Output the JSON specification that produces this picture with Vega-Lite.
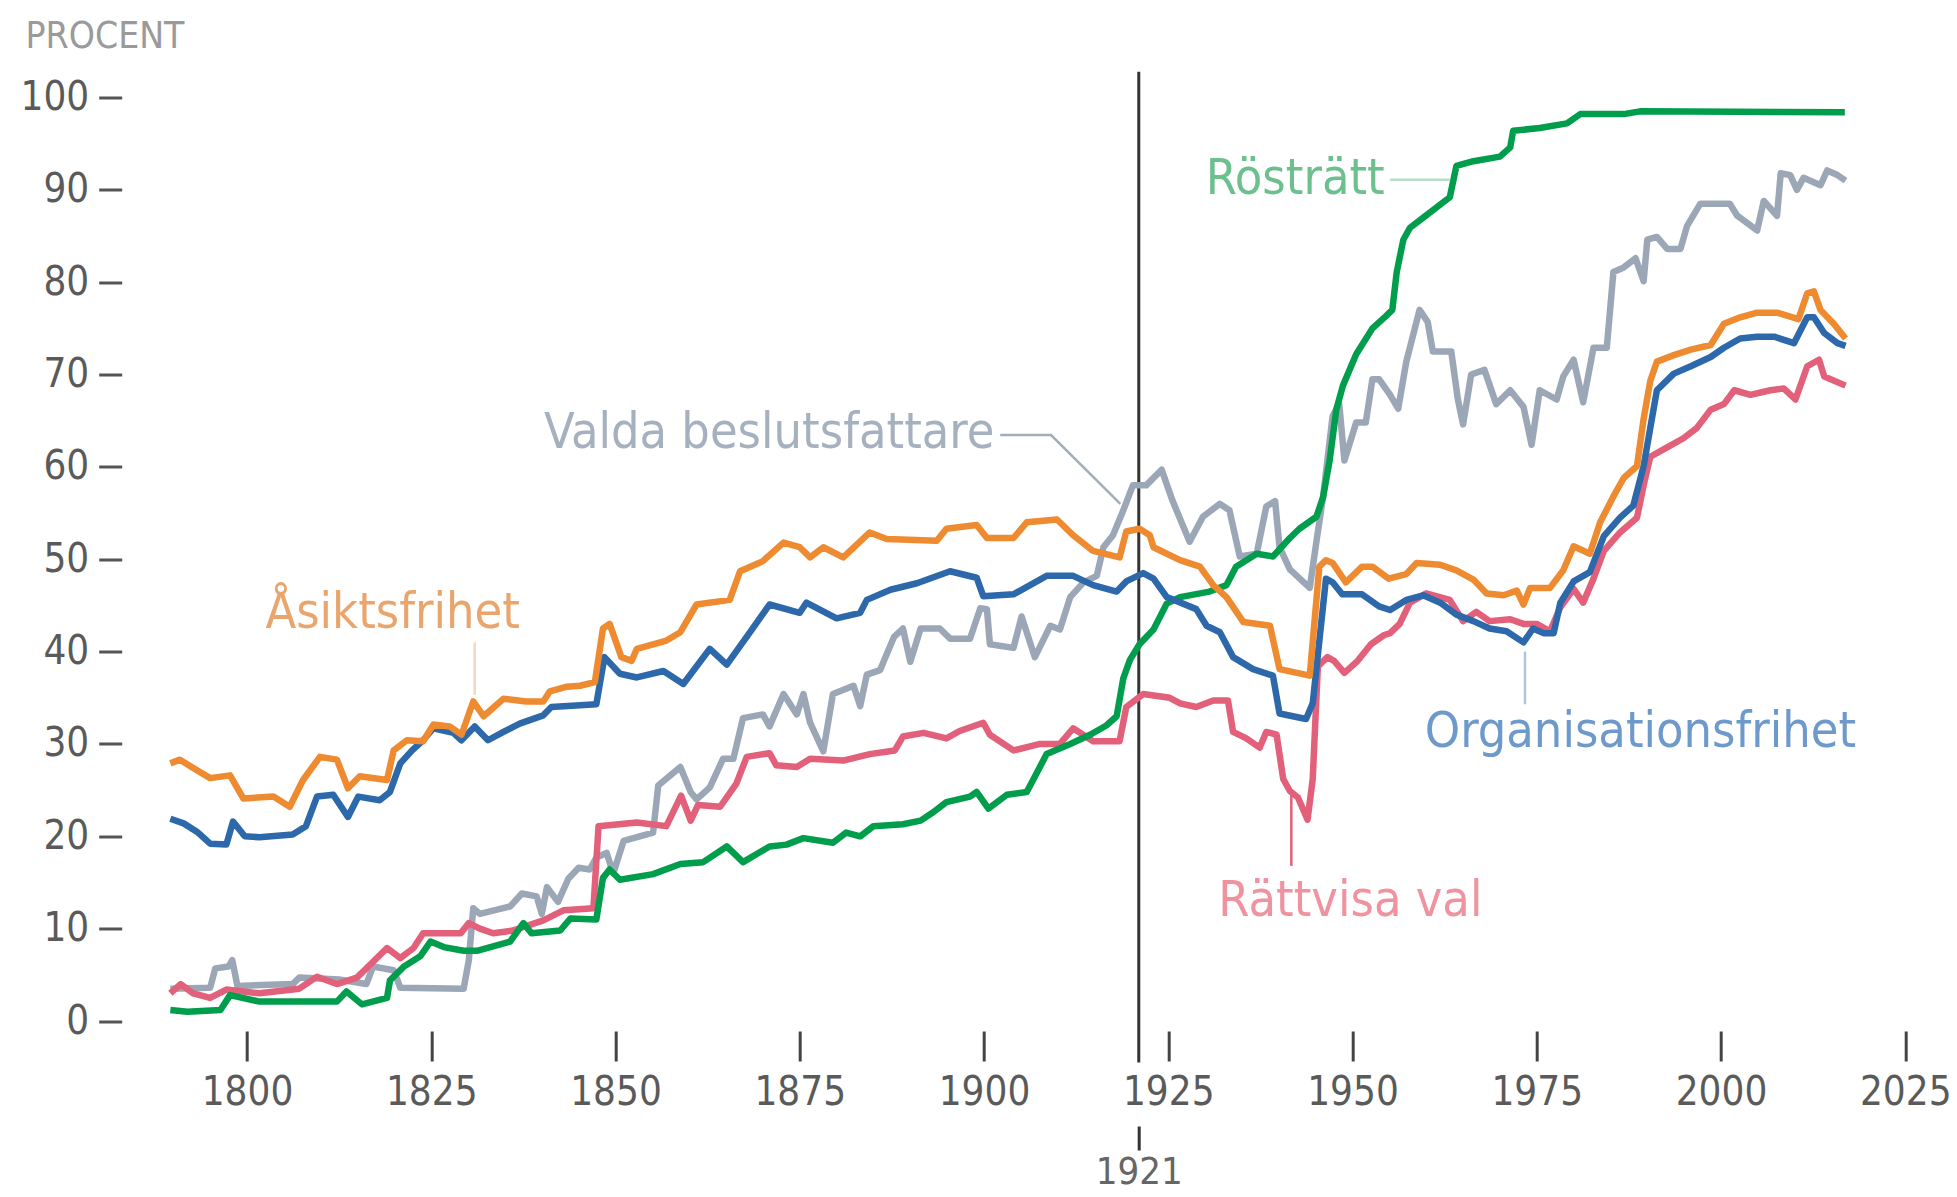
{
  "$schema": "https://vega.github.io/schema/vega-lite/v6.json",
  "autosize": "none",
  "width": 1798.3,
  "height": 923.5,
  "padding": {"left": 121.7, "top": 97.5, "right": 37, "bottom": 176},
  "background": "white",
  "config": {"view": {"stroke": null}},
  "datasets": {
    "lines": [
      {"s":"V","year":1789.6,"value":3.5},{"s":"V","year":1795.0,"value":3.6},{"s":"V","year":1795.7,"value":5.7},{"s":"V","year":1797.5,"value":5.9},{"s":"V","year":1798.0,"value":6.6},{"s":"V","year":1798.7,"value":3.8},{"s":"V","year":1806.2,"value":4.0},{"s":"V","year":1807.1,"value":4.7},{"s":"V","year":1812.5,"value":4.5},{"s":"V","year":1816.2,"value":4.0},{"s":"V","year":1817.1,"value":5.9},{"s":"V","year":1819.9,"value":5.5},{"s":"V","year":1820.8,"value":3.6},{"s":"V","year":1829.4,"value":3.5},{"s":"V","year":1830.1,"value":6.6},{"s":"V","year":1830.7,"value":12.2},{"s":"V","year":1831.6,"value":11.6},{"s":"V","year":1835.7,"value":12.4},{"s":"V","year":1837.3,"value":13.8},{"s":"V","year":1839.3,"value":13.5},{"s":"V","year":1840.0,"value":11.6},{"s":"V","year":1840.7,"value":14.5},{"s":"V","year":1842.2,"value":12.9},{"s":"V","year":1843.6,"value":15.4},{"s":"V","year":1845.0,"value":16.6},{"s":"V","year":1846.5,"value":16.4},{"s":"V","year":1847.4,"value":17.7},{"s":"V","year":1848.8,"value":18.2},{"s":"V","year":1849.7,"value":16.0},{"s":"V","year":1851.1,"value":19.5},{"s":"V","year":1855.1,"value":20.4},{"s":"V","year":1855.8,"value":25.5},{"s":"V","year":1858.8,"value":27.5},{"s":"V","year":1860.2,"value":24.8},{"s":"V","year":1861.0,"value":24.0},{"s":"V","year":1862.8,"value":25.3},{"s":"V","year":1864.6,"value":28.4},{"s":"V","year":1866.0,"value":28.4},{"s":"V","year":1867.3,"value":32.8},{"s":"V","year":1870.0,"value":33.2},{"s":"V","year":1870.9,"value":31.9},{"s":"V","year":1872.8,"value":35.4},{"s":"V","year":1874.6,"value":33.2},{"s":"V","year":1875.5,"value":35.4},{"s":"V","year":1876.4,"value":32.3},{"s":"V","year":1878.2,"value":29.2},{"s":"V","year":1879.5,"value":35.4},{"s":"V","year":1882.3,"value":36.3},{"s":"V","year":1883.2,"value":34.1},{"s":"V","year":1884.1,"value":37.5},{"s":"V","year":1885.9,"value":38.0},{"s":"V","year":1887.8,"value":41.6},{"s":"V","year":1889.0,"value":42.5},{"s":"V","year":1890.0,"value":38.9},{"s":"V","year":1891.4,"value":42.5},{"s":"V","year":1894.0,"value":42.5},{"s":"V","year":1895.4,"value":41.4},{"s":"V","year":1898.1,"value":41.4},{"s":"V","year":1899.5,"value":44.7},{"s":"V","year":1900.4,"value":44.6},{"s":"V","year":1900.8,"value":40.8},{"s":"V","year":1904.0,"value":40.4},{"s":"V","year":1905.1,"value":43.8},{"s":"V","year":1906.9,"value":39.4},{"s":"V","year":1909.0,"value":42.8},{"s":"V","year":1910.3,"value":42.4},{"s":"V","year":1911.7,"value":45.9},{"s":"V","year":1913.5,"value":47.5},{"s":"V","year":1915.3,"value":48.2},{"s":"V","year":1916.2,"value":51.3},{"s":"V","year":1917.5,"value":52.6},{"s":"V","year":1918.9,"value":55.3},{"s":"V","year":1920.2,"value":58.0},{"s":"V","year":1922.0,"value":58.0},{"s":"V","year":1924.1,"value":59.7},{"s":"V","year":1925.6,"value":56.3},{"s":"V","year":1927.9,"value":51.9},{"s":"V","year":1929.7,"value":54.6},{"s":"V","year":1932.0,"value":56.0},{"s":"V","year":1933.3,"value":55.3},{"s":"V","year":1934.7,"value":50.3},{"s":"V","year":1937.0,"value":50.6},{"s":"V","year":1938.3,"value":55.7},{"s":"V","year":1939.5,"value":56.3},{"s":"V","year":1940.1,"value":51.3},{"s":"V","year":1941.5,"value":48.9},{"s":"V","year":1944.2,"value":46.9},{"s":"V","year":1945.1,"value":51.9},{"s":"V","year":1946.0,"value":56.7},{"s":"V","year":1947.3,"value":65.5},{"s":"V","year":1948.2,"value":66.8},{"s":"V","year":1948.9,"value":60.7},{"s":"V","year":1950.5,"value":64.8},{"s":"V","year":1951.8,"value":64.8},{"s":"V","year":1952.7,"value":69.5},{"s":"V","year":1953.6,"value":69.5},{"s":"V","year":1955.1,"value":67.8},{"s":"V","year":1956.2,"value":66.3},{"s":"V","year":1957.3,"value":71.4},{"s":"V","year":1959.1,"value":77.0},{"s":"V","year":1960.2,"value":75.7},{"s":"V","year":1960.9,"value":72.5},{"s":"V","year":1963.4,"value":72.5},{"s":"V","year":1964.3,"value":67.3},{"s":"V","year":1965.0,"value":64.6},{"s":"V","year":1966.1,"value":70.0},{"s":"V","year":1967.9,"value":70.5},{"s":"V","year":1969.5,"value":66.8},{"s":"V","year":1971.4,"value":68.3},{"s":"V","year":1973.2,"value":66.5},{"s":"V","year":1974.3,"value":62.4},{"s":"V","year":1975.4,"value":68.3},{"s":"V","year":1977.7,"value":67.3},{"s":"V","year":1978.6,"value":69.8},{"s":"V","year":1980.0,"value":71.6},{"s":"V","year":1981.3,"value":67.0},{"s":"V","year":1982.7,"value":72.9},{"s":"V","year":1984.5,"value":72.9},{"s":"V","year":1985.4,"value":81.1},{"s":"V","year":1986.8,"value":81.6},{"s":"V","year":1988.4,"value":82.6},{"s":"V","year":1989.5,"value":80.1},{"s":"V","year":1990.0,"value":84.6},{"s":"V","year":1991.3,"value":84.9},{"s":"V","year":1992.7,"value":83.6},{"s":"V","year":1994.5,"value":83.6},{"s":"V","year":1995.4,"value":86.1},{"s":"V","year":1997.2,"value":88.5},{"s":"V","year":2001.2,"value":88.5},{"s":"V","year":2002.2,"value":87.2},{"s":"V","year":2004.9,"value":85.6},{"s":"V","year":2005.8,"value":88.8},{"s":"V","year":2007.6,"value":87.2},{"s":"V","year":2008.1,"value":91.8},{"s":"V","year":2009.4,"value":91.6},{"s":"V","year":2010.3,"value":90.0},{"s":"V","year":2011.2,"value":91.3},{"s":"V","year":2013.5,"value":90.5},{"s":"V","year":2014.4,"value":92.1},{"s":"V","year":2015.8,"value":91.6},{"s":"V","year":2016.9,"value":91.0},

      {"s":"R","year":1789.6,"value":3.0},{"s":"R","year":1791.0,"value":4.0},{"s":"R","year":1792.7,"value":3.0},{"s":"R","year":1795.0,"value":2.5},{"s":"R","year":1797.2,"value":3.4},{"s":"R","year":1801.7,"value":3.0},{"s":"R","year":1807.1,"value":3.5},{"s":"R","year":1809.5,"value":4.8},{"s":"R","year":1812.2,"value":4.0},{"s":"R","year":1814.9,"value":4.7},{"s":"R","year":1816.2,"value":5.7},{"s":"R","year":1819.0,"value":7.9},{"s":"R","year":1820.8,"value":6.8},{"s":"R","year":1822.6,"value":7.9},{"s":"R","year":1823.9,"value":9.5},{"s":"R","year":1829.0,"value":9.5},{"s":"R","year":1830.1,"value":10.6},{"s":"R","year":1831.6,"value":10.0},{"s":"R","year":1833.4,"value":9.5},{"s":"R","year":1836.1,"value":9.8},{"s":"R","year":1840.2,"value":10.9},{"s":"R","year":1843.0,"value":12.0},{"s":"R","year":1847.0,"value":12.2},{"s":"R","year":1847.7,"value":21.1},{"s":"R","year":1852.9,"value":21.5},{"s":"R","year":1856.9,"value":21.1},{"s":"R","year":1858.9,"value":24.4},{"s":"R","year":1860.2,"value":21.7},{"s":"R","year":1861.2,"value":23.4},{"s":"R","year":1864.2,"value":23.2},{"s":"R","year":1866.4,"value":25.7},{"s":"R","year":1867.8,"value":28.6},{"s":"R","year":1870.9,"value":29.0},{"s":"R","year":1871.8,"value":27.7},{"s":"R","year":1874.6,"value":27.5},{"s":"R","year":1876.4,"value":28.4},{"s":"R","year":1880.9,"value":28.2},{"s":"R","year":1884.5,"value":28.9},{"s":"R","year":1887.9,"value":29.3},{"s":"R","year":1889.0,"value":30.8},{"s":"R","year":1891.8,"value":31.2},{"s":"R","year":1894.9,"value":30.6},{"s":"R","year":1896.7,"value":31.4},{"s":"R","year":1899.9,"value":32.3},{"s":"R","year":1900.8,"value":31.0},{"s":"R","year":1904.0,"value":29.3},{"s":"R","year":1907.6,"value":30.0},{"s":"R","year":1910.3,"value":30.0},{"s":"R","year":1912.1,"value":31.7},{"s":"R","year":1914.8,"value":30.3},{"s":"R","year":1918.4,"value":30.3},{"s":"R","year":1919.3,"value":34.0},{"s":"R","year":1921.6,"value":35.4},{"s":"R","year":1925.2,"value":35.0},{"s":"R","year":1926.6,"value":34.4},{"s":"R","year":1928.8,"value":34.0},{"s":"R","year":1931.1,"value":34.7},{"s":"R","year":1933.1,"value":34.7},{"s":"R","year":1933.8,"value":31.3},{"s":"R","year":1935.6,"value":30.6},{"s":"R","year":1937.4,"value":29.6},{"s":"R","year":1938.3,"value":31.3},{"s":"R","year":1939.7,"value":31.0},{"s":"R","year":1940.6,"value":26.2},{"s":"R","year":1941.5,"value":24.9},{"s":"R","year":1942.6,"value":24.2},{"s":"R","year":1943.9,"value":21.8},{"s":"R","year":1944.6,"value":26.2},{"s":"R","year":1945.3,"value":38.4},{"s":"R","year":1946.6,"value":39.4},{"s":"R","year":1947.5,"value":39.0},{"s":"R","year":1948.9,"value":37.7},{"s":"R","year":1950.7,"value":39.0},{"s":"R","year":1952.5,"value":40.8},{"s":"R","year":1954.3,"value":41.8},{"s":"R","year":1955.1,"value":42.0},{"s":"R","year":1956.4,"value":43.0},{"s":"R","year":1957.8,"value":45.3},{"s":"R","year":1960.0,"value":46.3},{"s":"R","year":1963.2,"value":45.6},{"s":"R","year":1965.0,"value":43.3},{"s":"R","year":1966.8,"value":44.3},{"s":"R","year":1968.6,"value":43.3},{"s":"R","year":1971.4,"value":43.5},{"s":"R","year":1973.2,"value":43.0},{"s":"R","year":1975.0,"value":43.0},{"s":"R","year":1976.8,"value":42.2},{"s":"R","year":1978.2,"value":44.8},{"s":"R","year":1980.0,"value":46.8},{"s":"R","year":1981.3,"value":45.3},{"s":"R","year":1982.7,"value":47.9},{"s":"R","year":1984.1,"value":50.9},{"s":"R","year":1986.3,"value":52.9},{"s":"R","year":1988.6,"value":54.5},{"s":"R","year":1989.5,"value":58.0},{"s":"R","year":1990.4,"value":61.1},{"s":"R","year":1992.2,"value":61.9},{"s":"R","year":1994.9,"value":63.1},{"s":"R","year":1996.7,"value":64.2},{"s":"R","year":1998.6,"value":66.2},{"s":"R","year":2000.4,"value":66.8},{"s":"R","year":2001.8,"value":68.3},{"s":"R","year":2004.0,"value":67.8},{"s":"R","year":2006.7,"value":68.3},{"s":"R","year":2008.5,"value":68.5},{"s":"R","year":2010.1,"value":67.3},{"s":"R","year":2011.7,"value":70.9},{"s":"R","year":2013.3,"value":71.6},{"s":"R","year":2014.0,"value":69.8},{"s":"R","year":2016.9,"value":68.8},

      {"s":"G","year":1789.6,"value":1.2},{"s":"G","year":1791.9,"value":1.0},{"s":"G","year":1796.4,"value":1.2},{"s":"G","year":1797.7,"value":2.8},{"s":"G","year":1801.7,"value":2.1},{"s":"G","year":1812.2,"value":2.1},{"s":"G","year":1813.5,"value":3.2},{"s":"G","year":1815.6,"value":1.8},{"s":"G","year":1819.0,"value":2.5},{"s":"G","year":1819.4,"value":4.4},{"s":"G","year":1821.3,"value":5.9},{"s":"G","year":1823.5,"value":7.0},{"s":"G","year":1824.9,"value":8.6},{"s":"G","year":1826.7,"value":8.0},{"s":"G","year":1829.4,"value":7.6},{"s":"G","year":1831.2,"value":7.6},{"s":"G","year":1835.7,"value":8.6},{"s":"G","year":1837.5,"value":10.6},{"s":"G","year":1838.6,"value":9.5},{"s":"G","year":1842.5,"value":9.8},{"s":"G","year":1843.9,"value":11.1},{"s":"G","year":1847.4,"value":11.0},{"s":"G","year":1848.3,"value":15.5},{"s":"G","year":1849.2,"value":16.4},{"s":"G","year":1850.6,"value":15.3},{"s":"G","year":1855.1,"value":15.9},{"s":"G","year":1858.8,"value":17.0},{"s":"G","year":1861.9,"value":17.2},{"s":"G","year":1865.1,"value":18.9},{"s":"G","year":1867.3,"value":17.2},{"s":"G","year":1870.9,"value":18.9},{"s":"G","year":1873.2,"value":19.1},{"s":"G","year":1875.5,"value":19.8},{"s":"G","year":1879.5,"value":19.3},{"s":"G","year":1881.3,"value":20.4},{"s":"G","year":1883.2,"value":20.0},{"s":"G","year":1885.0,"value":21.1},{"s":"G","year":1889.0,"value":21.3},{"s":"G","year":1891.4,"value":21.7},{"s":"G","year":1893.1,"value":22.6},{"s":"G","year":1894.9,"value":23.7},{"s":"G","year":1898.1,"value":24.3},{"s":"G","year":1899.0,"value":24.8},{"s":"G","year":1900.6,"value":23.0},{"s":"G","year":1903.1,"value":24.5},{"s":"G","year":1905.8,"value":24.8},{"s":"G","year":1908.5,"value":28.9},{"s":"G","year":1911.7,"value":30.0},{"s":"G","year":1914.4,"value":31.0},{"s":"G","year":1916.6,"value":32.0},{"s":"G","year":1918.0,"value":33.0},{"s":"G","year":1918.9,"value":37.1},{"s":"G","year":1919.8,"value":39.1},{"s":"G","year":1921.1,"value":40.8},{"s":"G","year":1923.0,"value":42.4},{"s":"G","year":1924.8,"value":45.2},{"s":"G","year":1926.6,"value":45.9},{"s":"G","year":1930.6,"value":46.5},{"s":"G","year":1932.9,"value":47.2},{"s":"G","year":1934.2,"value":49.2},{"s":"G","year":1937.0,"value":50.6},{"s":"G","year":1939.2,"value":50.3},{"s":"G","year":1941.5,"value":52.3},{"s":"G","year":1942.8,"value":53.3},{"s":"G","year":1945.1,"value":54.6},{"s":"G","year":1946.0,"value":56.7},{"s":"G","year":1946.9,"value":60.7},{"s":"G","year":1947.8,"value":66.2},{"s":"G","year":1948.7,"value":68.8},{"s":"G","year":1950.5,"value":72.2},{"s":"G","year":1952.7,"value":75.0},{"s":"G","year":1954.5,"value":76.3},{"s":"G","year":1955.4,"value":77.0},{"s":"G","year":1956.0,"value":81.1},{"s":"G","year":1956.9,"value":84.6},{"s":"G","year":1957.8,"value":85.9},{"s":"G","year":1959.6,"value":87.0},{"s":"G","year":1963.2,"value":89.2},{"s":"G","year":1964.1,"value":92.6},{"s":"G","year":1966.4,"value":93.1},{"s":"G","year":1970.0,"value":93.6},{"s":"G","year":1971.4,"value":94.6},{"s":"G","year":1971.8,"value":96.4},{"s":"G","year":1975.4,"value":96.7},{"s":"G","year":1979.1,"value":97.2},{"s":"G","year":1980.9,"value":98.2},{"s":"G","year":1986.8,"value":98.2},{"s":"G","year":1989.0,"value":98.5},{"s":"G","year":2016.8,"value":98.4},

      {"s":"O","year":1789.6,"value":21.9},{"s":"O","year":1791.4,"value":21.4},{"s":"O","year":1793.2,"value":20.5},{"s":"O","year":1795.0,"value":19.2},{"s":"O","year":1797.2,"value":19.1},{"s":"O","year":1798.1,"value":21.6},{"s":"O","year":1799.7,"value":20.0},{"s":"O","year":1801.7,"value":19.9},{"s":"O","year":1806.2,"value":20.2},{"s":"O","year":1808.0,"value":21.1},{"s":"O","year":1809.5,"value":24.3},{"s":"O","year":1811.7,"value":24.5},{"s":"O","year":1813.7,"value":22.1},{"s":"O","year":1815.1,"value":24.3},{"s":"O","year":1818.0,"value":23.9},{"s":"O","year":1819.4,"value":24.8},{"s":"O","year":1820.8,"value":27.9},{"s":"O","year":1822.4,"value":29.3},{"s":"O","year":1823.9,"value":30.4},{"s":"O","year":1825.3,"value":31.7},{"s":"O","year":1828.0,"value":31.2},{"s":"O","year":1829.1,"value":30.4},{"s":"O","year":1830.9,"value":31.9},{"s":"O","year":1832.7,"value":30.4},{"s":"O","year":1834.8,"value":31.3},{"s":"O","year":1837.0,"value":32.2},{"s":"O","year":1840.2,"value":33.1},{"s":"O","year":1841.3,"value":34.0},{"s":"O","year":1845.2,"value":34.2},{"s":"O","year":1847.4,"value":34.3},{"s":"O","year":1848.5,"value":39.4},{"s":"O","year":1850.6,"value":37.6},{"s":"O","year":1852.9,"value":37.2},{"s":"O","year":1856.5,"value":37.9},{"s":"O","year":1859.2,"value":36.5},{"s":"O","year":1862.8,"value":40.3},{"s":"O","year":1865.1,"value":38.6},{"s":"O","year":1867.8,"value":41.6},{"s":"O","year":1870.9,"value":45.1},{"s":"O","year":1875.0,"value":44.2},{"s":"O","year":1875.9,"value":45.3},{"s":"O","year":1880.0,"value":43.6},{"s":"O","year":1883.2,"value":44.2},{"s":"O","year":1884.1,"value":45.6},{"s":"O","year":1887.3,"value":46.7},{"s":"O","year":1890.9,"value":47.4},{"s":"O","year":1895.4,"value":48.7},{"s":"O","year":1899.0,"value":48.0},{"s":"O","year":1899.9,"value":46.0},{"s":"O","year":1904.0,"value":46.2},{"s":"O","year":1908.5,"value":48.2},{"s":"O","year":1912.1,"value":48.2},{"s":"O","year":1914.8,"value":47.2},{"s":"O","year":1918.0,"value":46.5},{"s":"O","year":1919.3,"value":47.6},{"s":"O","year":1921.6,"value":48.5},{"s":"O","year":1923.0,"value":47.9},{"s":"O","year":1924.8,"value":45.9},{"s":"O","year":1928.8,"value":44.6},{"s":"O","year":1930.2,"value":42.8},{"s":"O","year":1932.0,"value":42.1},{"s":"O","year":1933.8,"value":39.4},{"s":"O","year":1936.5,"value":38.1},{"s":"O","year":1939.2,"value":37.4},{"s":"O","year":1940.1,"value":33.3},{"s":"O","year":1943.7,"value":32.7},{"s":"O","year":1944.6,"value":34.4},{"s":"O","year":1946.4,"value":47.9},{"s":"O","year":1947.3,"value":47.5},{"s":"O","year":1948.6,"value":46.2},{"s":"O","year":1951.3,"value":46.2},{"s":"O","year":1953.6,"value":44.9},{"s":"O","year":1955.1,"value":44.5},{"s":"O","year":1957.3,"value":45.6},{"s":"O","year":1959.6,"value":46.1},{"s":"O","year":1961.9,"value":45.3},{"s":"O","year":1964.1,"value":44.0},{"s":"O","year":1966.4,"value":43.3},{"s":"O","year":1968.6,"value":42.5},{"s":"O","year":1970.9,"value":42.2},{"s":"O","year":1973.2,"value":41.0},{"s":"O","year":1974.5,"value":42.5},{"s":"O","year":1975.9,"value":42.0},{"s":"O","year":1977.3,"value":42.0},{"s":"O","year":1978.2,"value":45.3},{"s":"O","year":1980.0,"value":47.6},{"s":"O","year":1982.2,"value":48.6},{"s":"O","year":1984.1,"value":52.5},{"s":"O","year":1986.3,"value":54.5},{"s":"O","year":1988.1,"value":55.8},{"s":"O","year":1989.5,"value":60.1},{"s":"O","year":1990.4,"value":64.2},{"s":"O","year":1991.3,"value":68.3},{"s":"O","year":1993.6,"value":70.1},{"s":"O","year":1995.9,"value":70.9},{"s":"O","year":1998.6,"value":71.9},{"s":"O","year":2000.4,"value":72.9},{"s":"O","year":2002.6,"value":73.9},{"s":"O","year":2004.9,"value":74.1},{"s":"O","year":2007.2,"value":74.1},{"s":"O","year":2009.9,"value":73.4},{"s":"O","year":2011.7,"value":76.2},{"s":"O","year":2012.6,"value":76.2},{"s":"O","year":2014.0,"value":74.5},{"s":"O","year":2015.8,"value":73.4},{"s":"O","year":2016.9,"value":73.1},

      {"s":"A","year":1789.6,"value":27.9},{"s":"A","year":1790.9,"value":28.3},{"s":"A","year":1792.7,"value":27.4},{"s":"A","year":1795.0,"value":26.3},{"s":"A","year":1797.7,"value":26.6},{"s":"A","year":1799.5,"value":24.1},{"s":"A","year":1803.6,"value":24.3},{"s":"A","year":1805.8,"value":23.2},{"s":"A","year":1807.6,"value":26.1},{"s":"A","year":1809.9,"value":28.6},{"s":"A","year":1812.2,"value":28.3},{"s":"A","year":1813.7,"value":25.2},{"s":"A","year":1815.3,"value":26.5},{"s":"A","year":1819.0,"value":26.1},{"s":"A","year":1819.9,"value":29.3},{"s":"A","year":1821.7,"value":30.4},{"s":"A","year":1823.9,"value":30.3},{"s":"A","year":1825.3,"value":32.1},{"s":"A","year":1827.5,"value":31.9},{"s":"A","year":1829.1,"value":31.0},{"s":"A","year":1830.7,"value":34.6},{"s":"A","year":1832.1,"value":33.0},{"s":"A","year":1834.8,"value":34.9},{"s":"A","year":1837.9,"value":34.6},{"s":"A","year":1840.2,"value":34.6},{"s":"A","year":1841.1,"value":35.7},{"s":"A","year":1843.4,"value":36.2},{"s":"A","year":1845.2,"value":36.3},{"s":"A","year":1847.2,"value":36.7},{"s":"A","year":1848.3,"value":42.5},{"s":"A","year":1849.2,"value":43.0},{"s":"A","year":1850.8,"value":39.4},{"s":"A","year":1852.2,"value":39.0},{"s":"A","year":1852.9,"value":40.3},{"s":"A","year":1856.9,"value":41.2},{"s":"A","year":1858.8,"value":42.1},{"s":"A","year":1861.0,"value":45.1},{"s":"A","year":1865.5,"value":45.6},{"s":"A","year":1866.9,"value":48.7},{"s":"A","year":1870.0,"value":49.8},{"s":"A","year":1872.8,"value":51.8},{"s":"A","year":1875.0,"value":51.3},{"s":"A","year":1876.4,"value":50.2},{"s":"A","year":1878.2,"value":51.3},{"s":"A","year":1880.9,"value":50.2},{"s":"A","year":1884.5,"value":52.9},{"s":"A","year":1886.8,"value":52.2},{"s":"A","year":1893.6,"value":52.0},{"s":"A","year":1894.9,"value":53.3},{"s":"A","year":1899.0,"value":53.7},{"s":"A","year":1900.4,"value":52.3},{"s":"A","year":1904.0,"value":52.3},{"s":"A","year":1905.8,"value":54.0},{"s":"A","year":1909.9,"value":54.3},{"s":"A","year":1912.1,"value":52.6},{"s":"A","year":1914.8,"value":50.9},{"s":"A","year":1918.4,"value":50.2},{"s":"A","year":1919.3,"value":53.0},{"s":"A","year":1921.1,"value":53.3},{"s":"A","year":1922.5,"value":52.6},{"s":"A","year":1923.0,"value":51.3},{"s":"A","year":1926.6,"value":49.9},{"s":"A","year":1929.3,"value":49.2},{"s":"A","year":1931.1,"value":47.2},{"s":"A","year":1932.9,"value":45.9},{"s":"A","year":1935.2,"value":43.2},{"s":"A","year":1938.8,"value":42.8},{"s":"A","year":1940.1,"value":38.1},{"s":"A","year":1944.2,"value":37.4},{"s":"A","year":1945.5,"value":49.2},{"s":"A","year":1946.4,"value":49.9},{"s":"A","year":1947.3,"value":49.6},{"s":"A","year":1949.1,"value":47.5},{"s":"A","year":1951.3,"value":49.2},{"s":"A","year":1952.7,"value":49.2},{"s":"A","year":1954.9,"value":47.9},{"s":"A","year":1957.3,"value":48.4},{"s":"A","year":1958.7,"value":49.6},{"s":"A","year":1961.9,"value":49.4},{"s":"A","year":1964.1,"value":48.8},{"s":"A","year":1966.4,"value":47.8},{"s":"A","year":1968.2,"value":46.3},{"s":"A","year":1970.5,"value":46.1},{"s":"A","year":1972.3,"value":46.6},{"s":"A","year":1973.2,"value":45.1},{"s":"A","year":1974.1,"value":46.9},{"s":"A","year":1976.8,"value":46.9},{"s":"A","year":1978.6,"value":48.8},{"s":"A","year":1980.0,"value":51.4},{"s":"A","year":1982.2,"value":50.6},{"s":"A","year":1983.6,"value":54.0},{"s":"A","year":1985.4,"value":56.8},{"s":"A","year":1986.8,"value":58.8},{"s":"A","year":1988.6,"value":60.1},{"s":"A","year":1989.5,"value":65.2},{"s":"A","year":1990.4,"value":69.3},{"s":"A","year":1991.3,"value":71.4},{"s":"A","year":1993.6,"value":72.1},{"s":"A","year":1995.9,"value":72.7},{"s":"A","year":1998.6,"value":73.2},{"s":"A","year":2000.4,"value":75.5},{"s":"A","year":2002.6,"value":76.2},{"s":"A","year":2004.9,"value":76.7},{"s":"A","year":2007.6,"value":76.7},{"s":"A","year":2010.5,"value":76.0},{"s":"A","year":2011.7,"value":78.8},{"s":"A","year":2012.6,"value":79.0},{"s":"A","year":2013.5,"value":77.0},{"s":"A","year":2015.3,"value":75.5},{"s":"A","year":2016.9,"value":73.9}
    ],
    "leaders": [
      {"s":"A","i":0,"year":1830.9,"value":41.0},{"s":"A","i":1,"year":1830.9,"value":35.3},
      {"s":"V","i":0,"year":1902.2,"value":63.45},{"s":"V","i":1,"year":1909.1,"value":63.45},{"s":"V","i":2,"year":1918.5,"value":56.0},
      {"s":"G","i":0,"year":1955.1,"value":91.1},{"s":"G","i":1,"year":1963.2,"value":91.1},
      {"s":"O","i":0,"year":1973.4,"value":40.0},{"s":"O","i":1,"year":1973.4,"value":34.3},
      {"s":"R","i":0,"year":1941.7,"value":24.5},{"s":"R","i":1,"year":1941.7,"value":16.8}
    ],
    "labels": [
      {"s":"A","label":"Åsiktsfrihet","year":1802.5,"value":42.6},
      {"s":"V","label":"Valda beslutsfattare","year":1840.3,"value":62.0},
      {"s":"G","label":"Rösträtt","year":1930.1,"value":89.5},
      {"s":"O","label":"Organisationsfrihet","year":1959.8,"value":29.7},
      {"s":"R","label":"Rättvisa val","year":1931.8,"value":11.4}
    ],
    "marker": [{"year":1921,"value":102.8,"value2":-4.5}]
  },
  "layer": [
    {
      "data": {"name": "marker"},
      "mark": {"type": "rule", "color": "#333333", "strokeWidth": 3},
      "encoding": {
        "x": {"field": "year", "type": "quantitative",
              "scale": {"domain": [1783, 2027], "nice": false, "zero": false},
              "axis": {"values": [1921], "orient": "bottom", "offset": 105, "tickSize": 24, "tickWidth": 3, "tickColor": "#333333", "domain": false, "grid": false, "format": "d", "labelFont": "DejaVu Sans Condensed, Roboto, sans-serif", "labelFontSize": 38, "labelColor": "#666666", "labelPadding": 3, "title": null}},
        "y": {"field": "value", "type": "quantitative"},
        "y2": {"field": "value2"}
      }
    },
    {
      "data": {"name": "lines"},
      "mark": {"type": "line", "strokeWidth": 6.5, "strokeJoin": "round", "strokeCap": "butt"},
      "encoding": {
        "x": {"field": "year", "type": "quantitative",
              "scale": {"domain": [1783, 2027], "nice": false, "zero": false},
              "axis": {"values": [1800, 1825, 1850, 1875, 1900, 1925, 1950, 1975, 2000, 2025], "orient": "bottom", "offset": 10, "tickSize": 30, "tickWidth": 3, "tickColor": "#444444", "domain": false, "grid": false, "format": "d", "labelFont": "DejaVu Sans Condensed, Roboto, sans-serif", "labelFontSize": 40, "labelColor": "#5a5a5a", "labelPadding": 11, "labelFlush": false, "labelOverlap": false, "title": null}},
        "y": {"field": "value", "type": "quantitative",
              "scale": {"domain": [0, 100], "nice": false, "zero": false},
              "axis": {"values": [0, 10, 20, 30, 40, 50, 60, 70, 80, 90, 100], "domain": false, "grid": false, "tickSize": 23, "tickWidth": 3, "tickColor": "#555555", "labelFont": "DejaVu Sans Condensed, Roboto, sans-serif", "labelFontSize": 40, "labelColor": "#5a5a5a", "labelPadding": 10, "labelBaseline": "middle", "labelFlush": false, "labelOverlap": false,
                       "title": "PROCENT", "titleAngle": 0, "titleAlign": "left", "titleBaseline": "middle", "titleX": -96.7, "titleY": -61.5, "titleFont": "DejaVu Sans Condensed, Roboto, sans-serif", "titleFontSize": 37, "titleFontWeight": "normal", "titleColor": "#9a9a9a"}},
        "color": {"field": "s", "type": "nominal", "legend": null,
                  "scale": {"domain": ["V", "R", "G", "O", "A"], "range": ["#9BA7B6", "#E2607A", "#009E4C", "#2C68AA", "#EE8A2F"]}}
      }
    },
    {
      "data": {"name": "leaders"},
      "mark": {"type": "line", "strokeWidth": 2.5},
      "encoding": {
        "x": {"field": "year", "type": "quantitative", "axis": null},
        "y": {"field": "value", "type": "quantitative"},
        "detail": {"field": "s"},
        "order": {"field": "i", "type": "quantitative"},
        "color": {"field": "s", "type": "nominal", "legend": null,
                  "scale": {"domain": ["V", "R", "G", "O", "A"], "range": ["#A3AEBA", "#E2607A", "#B5DEC5", "#AFC6DF", "#F4D8BF"]}}
      }
    },
    {
      "data": {"name": "labels"},
      "mark": {"type": "text", "align": "left", "baseline": "alphabetic", "font": "DejaVu Sans Condensed, Roboto, sans-serif", "fontSize": 50},
      "encoding": {
        "x": {"field": "year", "type": "quantitative", "axis": null},
        "y": {"field": "value", "type": "quantitative"},
        "text": {"field": "label"},
        "color": {"field": "s", "type": "nominal", "legend": null,
                  "scale": {"domain": ["V", "R", "G", "O", "A"], "range": ["#A6B1BF", "#F0929F", "#6CC08E", "#6D99CB", "#E9A56C"]}}
      }
    }
  ],
  "resolve": {"scale": {"color": "independent"}, "axis": {"x": "independent"}}
}
